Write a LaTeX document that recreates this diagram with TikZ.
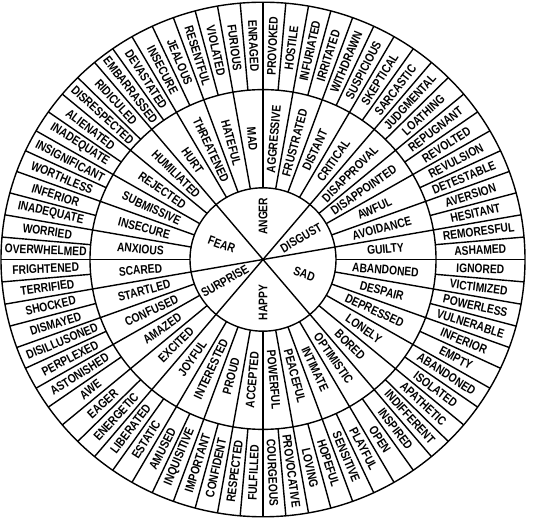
\documentclass[tikz,border=0pt]{standalone}
\usepackage{fontspec}
\setmainfont[FakeStretch=0.82]{Liberation Sans}
\begin{document}
\begin{tikzpicture}[x=1pt,y=0.982pt,
    wheel/.style={line width=1.4pt},
    feel/.style={font=\fontsize{12.5}{13}\selectfont\bfseries, inner sep=0pt}]
    \useasboundingbox (0pt,0pt) rectangle (535pt,521pt);
    \begin{scope}[shift={(263pt,261.5pt)}]
    % rings
    \draw[wheel] (0,0) circle[radius=262];
    \draw[wheel] (0,0) circle[radius=173];
    \draw[wheel] (0,0) circle[radius=73];

    % core dividers
    \foreach \a in {10,50,130,190,230,310}
        \draw[wheel] (0,0) -- (\a:73);
    % middle dividers
    \foreach \a in {0,10,...,350}
        \draw[wheel] (\a:73) -- (\a:173);
    % outer dividers
    \foreach \a in {0,5,...,355}
        \draw[wheel] (\a:173) -- (\a:262);

    % core feelings
    \foreach \a/\r/\t [count=\i] in {30/30/DISGUST, 90/90/ANGER, 160/-20/FEAR,
        210/30/SURPRISE, 270/90/HAPPY, 340/-20/SAD}
        \node[feel, rotate=\r] (core-\i) at (\a:44) {\t};

    % middle feelings
    \foreach \t [count=\i] in {GUILTY,AVOIDANCE,AWFUL,DISAPPOINTED,DISAPPROVAL,
        CRITICAL,DISTANT,FRUSTRATED,AGGRESSIVE,MAD,HATEFUL,THREATENED,HURT,
        HUMILIATED,REJECTED,SUBMISSIVE,INSECURE,ANXIOUS,SCARED,STARTLED,
        CONFUSED,AMAZED,EXCITED,JOYFUL,INTERESTED,PROUD,ACCEPTED,POWERFUL,
        PEACEFUL,INTIMATE,OPTIMISTIC,BORED,LONELY,DEPRESSED,DESPAIR,ABANDONED}{
        \pgfmathsetmacro{\a}{10*\i-5}
        \pgfmathsetmacro{\rot}{ifthenelse(and(\a>90,\a<270),\a-180,\a)}
        \node[feel, rotate=\rot] (mid-\i) at (\a:123) {\t};
    }

    % outer feelings
    \foreach \t [count=\i] in {ASHAMED,REMORESFUL,HESITANT,AVERSION,DETESTABLE,
        REVULSION,REVOLTED,REPUGNANT,LOATHING,JUDGMENTAL,SARCASTIC,SKEPTICAL,
        SUSPICIOUS,WITHDRAWN,IRRITATED,INFURIATED,HOSTILE,PROVOKED,ENRAGED,
        FURIOUS,VIOLATED,RESENTFUL,JEALOUS,INSECURE,DEVASTATED,EMBARRASSED,
        RIDICULED,DISRESPECTED,ALIENATED,INADEQUATE,INSIGNIFICANT,WORTHLESS,
        INFERIOR,INADEQUATE,WORRIED,OVERWHELMED,FRIGHTENED,TERRIFIED,SHOCKED,
        DISMAYED,DISILLUSONED,PERPLEXED,ASTONISHED,AWE,EAGER,ENERGETIC,
        LIBERATED,ESTATIC,AMUSED,INQUISITIVE,IMPORTANT,CONFIDENT,RESPECTED,
        FULFILLED,COURGEOUS,PROVOCATIVE,LOVING,HOPEFUL,SENSITIVE,PLAYFUL,OPEN,
        INSPIRED,INDIFFERENT,APATHETIC,ISOLATED,ABANDONED,EMPTY,INFERIOR,
        VULNERABLE,POWERLESS,VICTIMIZED,IGNORED}{
        \pgfmathsetmacro{\a}{5*\i-2.5}
        \pgfmathsetmacro{\rot}{ifthenelse(and(\a>90,\a<270),\a-180,\a)}
        \node[feel, rotate=\rot] (out-\i) at (\a:217.5) {\t};
    }
    \end{scope}
\end{tikzpicture}
\end{document}
